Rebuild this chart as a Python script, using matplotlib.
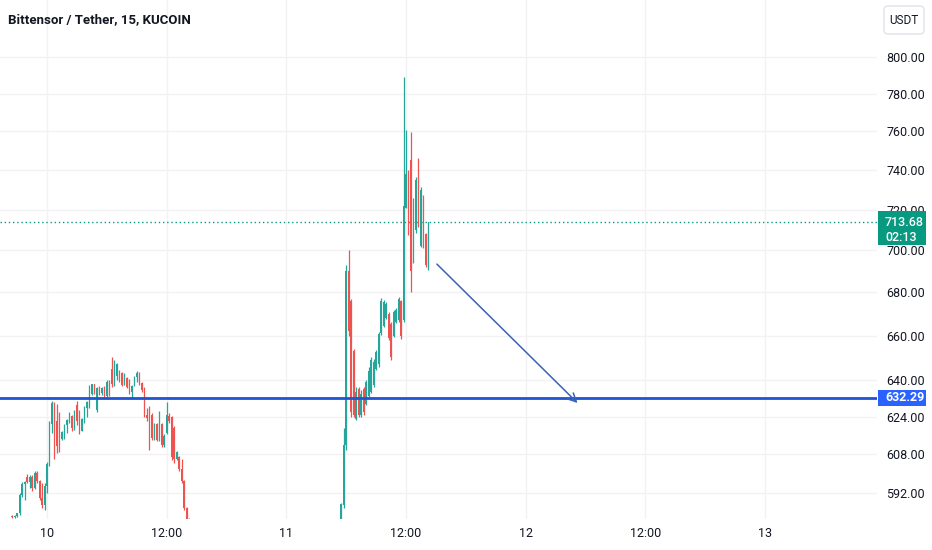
import numpy as np
import matplotlib.pyplot as plt
from matplotlib.patches import Rectangle, FancyBboxPatch
from matplotlib.transforms import IdentityTransform
from matplotlib.ticker import NullLocator, NullFormatter

# Titulo e eixos
title = "Bittensor / Tether, 15, KUCOIN"
quote = "USDT"
y_ticks = [592, 608, 624, 640, 660, 680, 700, 720, 740, 760, 780, 800]
x_ticks = [10, 10.5, 11, 11.5, 12, 12.5, 13]
x_labels = ["10", "12:00", "11", "12:00", "12", "12:00", "13"]

step = 1 / 96  # 15 minutos em dias

# Bloco 1: dia 9 20:30 ate dia 10 14:15
s1_start = 9 + 20.5 / 24
s1_open = [582.6, 582.2, 582.8, 583.8, 591.2, 595.8, 598.8, 596.6, 598.8, 594.0,
           600.4, 597.0, 590.0, 587.0, 595.0, 604.0, 621.0, 630.0, 622.0, 624.0,
           614.5, 617.6, 620.5, 622.5, 624.5, 619.0, 629.0, 626.0, 618.0, 623.0,
           628.0, 629.0, 634.0, 638.2, 627.0, 636.4, 634.2, 636.6, 633.2, 639.4,
           645.0, 638.2, 642.0, 644.0, 643.0, 638.0, 641.0, 640.0, 634.6, 637.6,
           641.4, 643.0, 638.6, 635.6, 625.0, 628.0, 625.0, 615.0, 621.0, 614.2,
           621.0, 612.0, 617.0, 624.5, 624.0, 619.0, 606.0, 607.0, 602.0, 597.0,
           586.0, 581.0]
s1_high = [583.0, 583.0, 584.0, 592.0, 596.5, 597.0, 600.0, 599.5, 599.5, 601.0,
           601.0, 597.5, 596.0, 596.0, 605.0, 622.0, 631.0, 630.5, 629.5, 626.0,
           618.0, 621.0, 623.0, 626.0, 625.0, 627.0, 631.0, 627.0, 623.5, 628.5,
           631.0, 638.0, 638.5, 638.5, 637.0, 637.5, 637.0, 637.5, 640.0, 640.0,
           650.5, 649.0, 647.6, 644.5, 643.5, 643.2, 641.5, 640.5, 638.0, 642.0,
           644.0, 643.5, 639.0, 637.0, 628.0, 628.5, 625.6, 621.5, 621.5, 626.5,
           621.5, 616.5, 630.5, 625.5, 624.5, 620.0, 609.5, 607.5, 606.0, 597.5,
           586.5, 582.0]
s1_low = [582.0, 581.8, 582.4, 583.2, 590.5, 589.0, 596.0, 594.0, 593.0, 593.5,
          596.0, 589.0, 586.0, 585.0, 592.0, 603.0, 617.0, 606.0, 608.5, 609.0,
          614.0, 614.7, 617.0, 621.5, 618.0, 618.5, 620.5, 616.5, 618.0, 621.5,
          624.0, 628.0, 633.5, 634.0, 626.0, 633.5, 633.5, 632.5, 632.0, 633.0,
          637.0, 637.5, 640.0, 639.0, 637.5, 638.0, 636.5, 634.0, 632.0, 637.4,
          639.0, 638.0, 635.0, 624.0, 622.0, 610.0, 614.0, 614.0, 613.5, 613.5,
          611.0, 611.0, 616.5, 621.5, 605.5, 604.5, 605.5, 601.0, 596.0, 585.0,
          580.0, 575.0]
s1_close = [582.2, 582.8, 583.8, 591.2, 595.8, 596.4, 596.6, 598.8, 594.0, 600.4,
            597.0, 590.0, 587.0, 595.0, 604.0, 621.0, 630.0, 611.0, 611.5, 612.0,
            617.6, 620.5, 622.5, 625.5, 619.0, 626.4, 622.0, 618.0, 623.0, 628.0,
            630.5, 637.2, 638.2, 634.6, 636.4, 634.2, 636.6, 633.2, 639.4, 634.0,
            638.2, 648.0, 647.0, 639.6, 638.0, 642.6, 637.0, 634.6, 637.6, 641.4,
            643.2, 638.6, 635.6, 625.0, 623.4, 611.5, 615.0, 621.0, 614.2, 626.0,
            612.0, 616.0, 625.0, 622.0, 607.0, 606.0, 609.0, 602.0, 597.0, 586.0,
            581.0, 576.0]

# Bloco 2: dia 11 05:30 ate 14:15
s2_start = 11 + 5.5 / 24
s2_open = [580.0, 587.0, 612.0, 690.0, 676.0, 653.0, 623.0, 636.0, 625.0, 636.0,
           629.5, 633.0, 635.0, 638.0, 645.0, 647.0, 661.0, 664.5, 668.0, 670.0,
           665.5, 660.0, 666.0, 667.0, 676.0, 667.0, 721.0, 738.0, 745.0, 696.0,
           710.0, 745.0, 702.0, 726.0, 708.0, 692.0]
s2_high = [588.0, 619.0, 693.0, 700.0, 677.0, 654.0, 637.0, 637.0, 635.6, 637.0,
           640.0, 645.8, 650.3, 649.6, 653.5, 661.6, 677.4, 676.4, 675.5, 670.8,
           666.2, 671.7, 672.6, 677.8, 676.4, 789.0, 760.6, 740.0, 759.6, 725.7,
           736.4, 746.1, 731.3, 727.3, 708.4, 714.0]
s2_low = [576.0, 586.0, 610.0, 660.0, 624.0, 624.0, 622.6, 624.0, 624.0, 624.8,
          629.0, 632.6, 634.3, 637.0, 644.5, 645.8, 660.2, 663.9, 667.5, 658.0,
          649.0, 659.3, 665.7, 666.2, 658.4, 666.0, 720.8, 707.5, 680.2, 693.9,
          708.4, 711.4, 701.6, 701.1, 692.0, 690.6]
s2_close = [587.5, 612.0, 690.0, 662.0, 626.0, 625.0, 635.0, 625.0, 634.0, 626.0,
            639.0, 644.0, 649.0, 648.0, 652.5, 660.8, 676.0, 675.5, 674.5, 659.0,
            650.5, 671.0, 672.0, 677.0, 660.0, 722.0, 738.0, 709.0, 690.0, 724.0,
            735.0, 713.0, 730.0, 703.0, 693.0, 713.68]

last_price = 713.68
countdown = "02:13"
level = 632.29
arrow_start = (11 + 15.1 / 24, 693.4)
arrow_end = (12 + 5.2 / 24, 630.0)

green = "#26a69a"
red = "#ef5350"
label_green = "#089981"
blue_line = "#2052d4"
blue_label = "#2962ff"
text_col = "#131722"
grid_col = "#f2f2f5"

plt.rcParams['font.family'] = ['Roboto', 'DejaVu Sans']

fig = plt.figure(figsize=(9.32, 5.5), dpi=100)
ax = fig.add_axes([0, 31 / 550, 877 / 932, 519 / 550])


def candles(ax, start, o, h, l, c):
    o, h, l, c = map(np.array, (o, h, l, c))
    t = start + np.arange(len(o)) * step
    cols = np.where(c >= o, green, red)
    ax.vlines(t, l, h, colors=cols, lw=0.9, zorder=3)
    body = np.maximum(np.abs(c - o), 0.3)
    ax.bar(t, body, bottom=np.minimum(o, c), width=step * 0.55, color=cols,
           linewidth=0, zorder=3)


candles(ax, s1_start, s1_open, s1_high, s1_low, s1_close)
candles(ax, s2_start, s2_open, s2_high, s2_low, s2_close)

ax.set_yscale('log')
ax.set_ylim(581.5, 832.1)
ax.set_xlim(10 - 47 / 239.33, 10 + 830 / 239.33)

ax.yaxis.tick_right()
ax.yaxis.set_minor_locator(NullLocator())
ax.yaxis.set_minor_formatter(NullFormatter())
ax.set_yticks(y_ticks)
ax.set_yticklabels([f"{v:.2f}" for v in y_ticks])
ax.set_xticks(x_ticks)
ax.set_xticklabels(x_labels)
ax.tick_params(axis='y', length=0, pad=6.5, labelsize=9, labelcolor=text_col)
ax.tick_params(axis='x', length=0, pad=6, labelsize=9, labelcolor=text_col)
ax.grid(True, color=grid_col, lw=1, zorder=0)
for s in ax.spines.values():
    s.set_visible(False)

# linhas
ax.axhline(last_price, color=label_green, lw=1, ls=(0, (1, 2)), zorder=2)
ax.axhline(level, color=blue_line, lw=2, zorder=4)
ax.annotate('', xy=arrow_end, xytext=arrow_start,
            arrowprops=dict(arrowstyle='->,head_length=0.6,head_width=0.3',
                            color='#3a62b5', lw=1.1, shrinkA=0, shrinkB=0),
            zorder=5)

# caixas de preco no eixo
ident = IdentityTransform()
fig.canvas.draw()
yp = ax.transData.transform((11, last_price))[1]
fig.patches.append(Rectangle((878, yp - 23), 48, 34, transform=ident,
                             facecolor=label_green, edgecolor='none', zorder=5))
fig.text(885, yp, f"{last_price:.2f}", transform=ident, color='white',
         fontsize=9, fontweight='medium', va='center', ha='left', zorder=6)
fig.text(885, yp - 15, countdown, transform=ident, color='white',
         fontsize=9, fontweight='medium', va='center', ha='left', zorder=6)

yb = ax.transData.transform((11, level))[1]
fig.patches.append(Rectangle((878, yb - 8), 48, 16, transform=ident,
                             facecolor=blue_label, edgecolor='none', zorder=5))
fig.text(885, yb, f"{level:.2f}", transform=ident, color='white',
         fontsize=9, fontweight='bold', va='center', ha='left', zorder=6)

# caixa USDT
fig.patches.append(FancyBboxPatch((884, 516), 40, 28, transform=ident,
                                  boxstyle='round,pad=0,rounding_size=4',
                                  facecolor='white', edgecolor='#e0e3eb', lw=1, zorder=5))
fig.text(904, 530, quote, transform=ident, color=text_col, fontsize=8.5,
         ha='center', va='center', zorder=6)

# titulo
fig.text(8, 530, title, transform=ident, color=text_col, fontsize=9.5,
         fontweight='bold', va='center', ha='left')

fig.savefig('out.png', dpi=100)
